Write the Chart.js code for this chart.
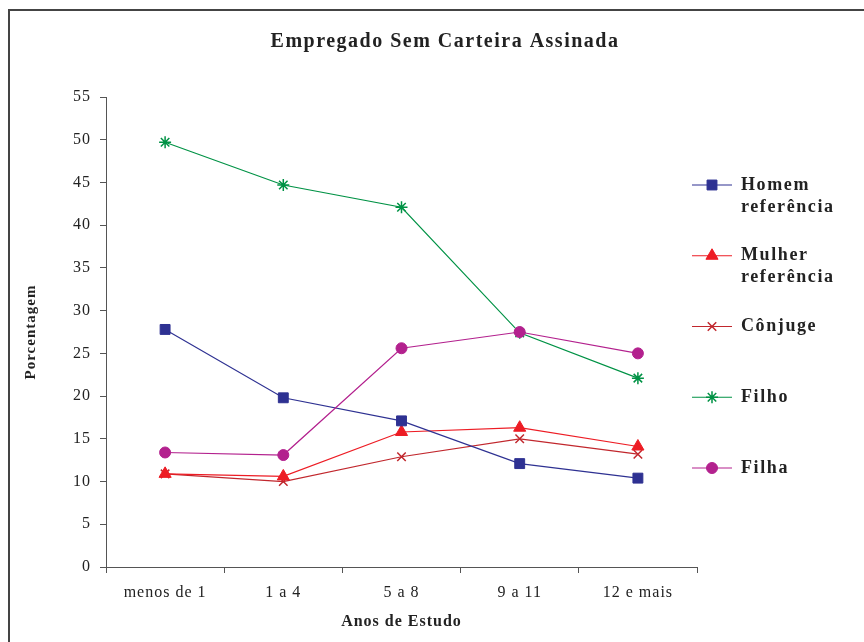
<!DOCTYPE html>
<html>
<head>
<meta charset="utf-8">
<script src="https://cdn.jsdelivr.net/npm/chart.js@4"></script>
<style>
  body { margin: 0; background: #fff; }
  #wrap { width: 864px; height: 642px; }
</style>
</head>
<body>
<div id="wrap"><canvas id="grafico" width="864" height="642"></canvas></div>
<script>
// categorias do eixo X
const anosEstudo = ['menos de 1', '1 a 4', '5 a 8', '9 a 11', '12 e mais'];

// porcentagens por tipo de membro
const homemRef = [27.8, 19.8, 17.1, 12.1, 10.4];
const mulherRef = [10.9, 10.6, 15.8, 16.3, 14.1];
const conjuge = [10.9, 10.0, 12.9, 15.0, 13.2];
const filho = [49.7, 44.7, 42.1, 27.4, 22.1];
const filha = [13.4, 13.1, 25.6, 27.5, 25.0];

const nomes = ['Homem referência', 'Mulher referência', 'Cônjuge', 'Filho', 'Filha'];
const cores = ['#2E3192', '#ED1C24', '#C1272D', '#009245', '#B3218E'];
const marcadores = ['rect', 'triangle', 'crossRot', 'star', 'circle'];
const raios = [7, 7, 6, 6, 5.5];

const valores = [homemRef, mulherRef, conjuge, filho, filha];

const titulo = 'Empregado Sem Carteira Assinada';
const fonte = '"Liberation Serif", "Times New Roman", serif';

// espaçamento entre letras dos textos do Chart.js (eixos)
const espacamento = {
    id: 'espacamento',
    beforeUpdate(chart) { chart.ctx.letterSpacing = '1px'; },
    beforeDraw(chart) { chart.ctx.letterSpacing = '1px'; }
};

// moldura (só topo e esquerda aparecem) + título
const moldura = {
    id: 'moldura',
    afterDraw(chart) {
        const ctx = chart.ctx;
        ctx.save();
        ctx.strokeStyle = '#444';
        ctx.lineWidth = 2;
        ctx.beginPath();
        ctx.moveTo(864, 10);
        ctx.lineTo(9, 10);
        ctx.lineTo(9, 642);
        ctx.stroke();

        ctx.fillStyle = '#222';
        ctx.font = 'bold 20px ' + fonte;
        ctx.letterSpacing = '1.5px';
        ctx.textAlign = 'center';
        ctx.textBaseline = 'middle';
        ctx.fillText(titulo, 445, 42);
        ctx.restore();
    }
};

// legenda desenhada à direita, nomes quebrados em linhas
const legenda = {
    id: 'legenda',
    afterDraw(chart) {
        const ctx = chart.ctx;
        ctx.save();
        chart.data.datasets.forEach(function(ds, i) {
            var y = 185 + i * 70.75;
            ctx.strokeStyle = ds.borderColor;
            ctx.lineWidth = 1.2;
            ctx.beginPath();
            ctx.moveTo(692, y);
            ctx.lineTo(732, y);
            ctx.stroke();
            ctx.fillStyle = ds.pointBackgroundColor;
            ctx.strokeStyle = ds.pointBorderColor;
            ctx.lineWidth = ds.pointBorderWidth;
            Chart.helpers.drawPoint(ctx, {
                pointStyle: ds.pointStyle, rotation: 0,
                radius: ds.pointRadius, borderWidth: ds.pointBorderWidth
            }, 712, y);
            ctx.fillStyle = '#222';
            ctx.font = 'bold 18px ' + fonte;
            ctx.letterSpacing = '1.6px';
            ctx.textBaseline = 'middle';
            ctx.textAlign = 'left';
            ds.label.split(' ').forEach(function(linha, k) {
                ctx.fillText(linha, 741, y + k * 22);
            });
        });
        ctx.restore();
    }
};

var datasets = [];
for (let i = 0; i < valores.length; i++) {
    datasets.push({
        label: nomes[i],
        data: valores[i],
        order: i == 4 ? 0 : 1,
        borderColor: cores[i],
        borderWidth: 1.2,
        pointStyle: marcadores[i],
        pointRadius: raios[i],
        pointHoverRadius: raios[i],
        pointBackgroundColor: cores[i],
        pointBorderColor: cores[i],
        pointBorderWidth: (marcadores[i] == 'crossRot' || marcadores[i] == 'star') ? 1.5 : 1,
        tension: 0,
        fill: false
    });
}

const config = {
    type: 'line',
    data: { labels: anosEstudo, datasets: datasets },
    plugins: [espacamento, moldura, legenda],
    options: {
        responsive: false,
        animation: false,
        layout: { padding: { left: 0, right: 167, top: 97, bottom: 0 } },
        plugins: {
            legend: { display: false },
            tooltip: { enabled: false },
            title: { display: false }
        },
        scales: {
            x: {
                offset: true,
                afterFit(scale) { scale.height = 75; },
                grid: { offset: true, drawOnChartArea: false, drawTicks: true, tickLength: 6, color: '#555' },
                border: { display: true, color: '#555', width: 1 },
                ticks: { color: '#222', font: { family: fonte, size: 16 }, padding: 10, maxRotation: 0 },
                title: {
                    display: true, text: 'Anos de Estudo', color: '#222',
                    font: { family: fonte, size: 16, weight: 'bold' },
                    padding: { top: 0, bottom: 11 }
                }
            },
            y: {
                min: 0, max: 55,
                afterFit(scale) { scale.width = 106; },
                grid: { drawOnChartArea: false, drawTicks: true, tickLength: 6, color: '#555' },
                border: { display: true, color: '#555', width: 1 },
                ticks: { stepSize: 5, color: '#222', font: { family: fonte, size: 16 }, padding: 9 },
                title: {
                    display: true, text: 'Porcentagem', color: '#222',
                    font: { family: fonte, size: 15, weight: 'bold' },
                    padding: { top: 22, bottom: 0 }
                }
            }
        }
    }
};

var ctx = document.getElementById('grafico').getContext('2d');
new Chart(ctx, config);
</script>
</body>
</html>
